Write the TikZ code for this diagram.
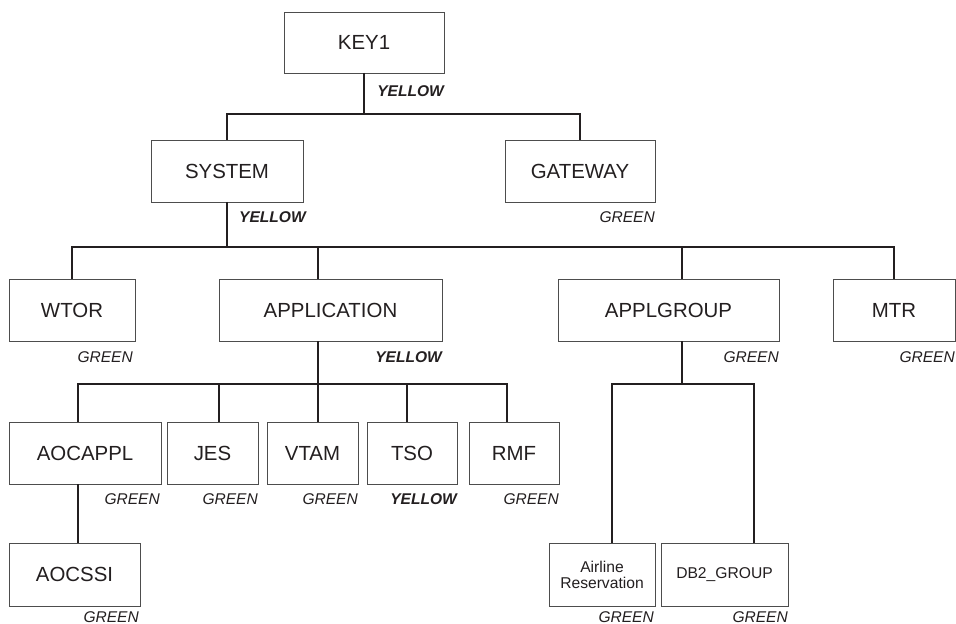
\documentclass[tikz,border=0pt]{standalone}
\usepackage{fontspec}
\setmainfont{Liberation Sans}
\usetikzlibrary{calc}
\definecolor{ink}{HTML}{231F20}
\definecolor{edge}{HTML}{4D4D4D}
\begin{document}
\begin{tikzpicture}[x=1bp,y=-1bp,
  box/.style={draw=edge, line width=0.9bp, fill=white, inner sep=0pt, outer sep=0pt, text=ink, font=\fontsize{20.5}{24}\selectfont},
  smallbox/.style={box, font=\fontsize{15.7}{16}\selectfont, align=center},
  conn/.style={draw=ink, line width=1.8bp},
  glab/.style={inner sep=0pt, anchor=east, text=ink, font=\fontsize{15.6}{18}\selectfont\itshape},
  ylab/.style={glab, font=\fontsize{15.6}{18}\selectfont\bfseries\itshape}]
\useasboundingbox (0,0) rectangle (956,624);
\fill[white] (0,0) rectangle (956,624);
% boxes
\node[box, minimum width=160bp, minimum height=61bp] (key1) at (364,42.5) {KEY1};
\node[box, minimum width=152bp, minimum height=62bp] (system) at (227,171) {SYSTEM};
\node[box, minimum width=150bp, minimum height=62bp] (gateway) at (580,171) {GATEWAY};
\node[box, minimum width=126bp, minimum height=62bp] (wtor) at (72,310) {WTOR};
\node[box, minimum width=223bp, minimum height=62bp] (app) at (330.5,310) {APPLICATION};
\node[box, minimum width=221bp, minimum height=62bp] (applgroup) at (668.5,310) {APPLGROUP};
\node[box, minimum width=122bp, minimum height=62bp] (mtr) at (894,310) {MTR};
\node[box, minimum width=152bp, minimum height=62bp] (aocappl) at (85,453) {AOCAPPL};
\node[box, minimum width=91bp, minimum height=62bp] (jes) at (212.5,453) {JES};
\node[box, minimum width=91bp, minimum height=62bp] (vtam) at (312.5,453) {VTAM};
\node[box, minimum width=90bp, minimum height=62bp] (tso) at (412,453) {TSO};
\node[box, minimum width=90bp, minimum height=62bp] (rmf) at (514,453) {RMF};
\node[box, minimum width=131bp, minimum height=63bp] (aocssi) at (74.5,574.5) {AOCSSI};
\node[smallbox, minimum width=106bp, minimum height=63bp] (airline) at (602,574.5) {Airline\\Reservation};
\node[smallbox, minimum width=127bp, minimum height=63bp] (db2) at (724.5,574.5) {DB2\_GROUP};
% helper coordinates
\coordinate (b1) at (0,114);
\coordinate (b2) at (0,247);
\coordinate (b3) at (0,384);
\coordinate (xapp) at (318,0);
\coordinate (xag) at (682,0);
\coordinate (xaoc) at (78,0);
\coordinate (xjes) at (219,0);
\coordinate (xtso) at (407,0);
\coordinate (xrmf) at (507,0);
\coordinate (xair) at (612,0);
\coordinate (xdb2) at (754,0);
% connectors
\draw[conn] (key1.south) -- (key1.south |- b1);
\draw[conn] (system.north) |- (gateway.north |- b1) -- (gateway.north);
\draw[conn] (system.south) -- (system.south |- b2);
\draw[conn] (wtor.north) |- (mtr.north |- b2) -- (mtr.north);
\draw[conn] (app.north -| xapp) -- (xapp |- b2);
\draw[conn] (applgroup.north -| xag) -- (xag |- b2);
\draw[conn] (app.south -| xapp) -- (vtam.north -| xapp);
\draw[conn] (aocappl.north -| xaoc) |- (xrmf |- b3) -- (rmf.north -| xrmf);
\draw[conn] (jes.north -| xjes) -- (xjes |- b3);
\draw[conn] (tso.north -| xtso) -- (xtso |- b3);
\draw[conn] (aocappl.south -| xaoc) -- (aocssi.north -| xaoc);
\draw[conn] (applgroup.south -| xag) -- (xag |- b3);
\draw[conn] (airline.north -| xair) |- (xdb2 |- b3) -- (db2.north -| xdb2);
% status labels
\node[ylab] (lkey1) at (444,91) {YELLOW};
\node[ylab, anchor=west] (lsystem) at (239,217) {YELLOW};
\node[glab] (lgateway) at (655,217) {GREEN};
\node[glab] (lwtor) at (133,357) {GREEN};
\node[ylab] (lapp) at (442,357) {YELLOW};
\node[glab] (lapplgroup) at (779,357) {GREEN};
\node[glab] (lmtr) at (955,357) {GREEN};
\node[glab] (laocappl) at (160,499) {GREEN};
\node[glab] (ljes) at (258,499) {GREEN};
\node[glab] (lvtam) at (358,499) {GREEN};
\node[ylab] (ltso) at (457,499) {YELLOW};
\node[glab] (lrmf) at (559,499) {GREEN};
\node[glab] (laocssi) at (139,617) {GREEN};
\node[glab] (lairline) at (654,617) {GREEN};
\node[glab] (ldb2) at (788,617) {GREEN};
\end{tikzpicture}
\end{document}
